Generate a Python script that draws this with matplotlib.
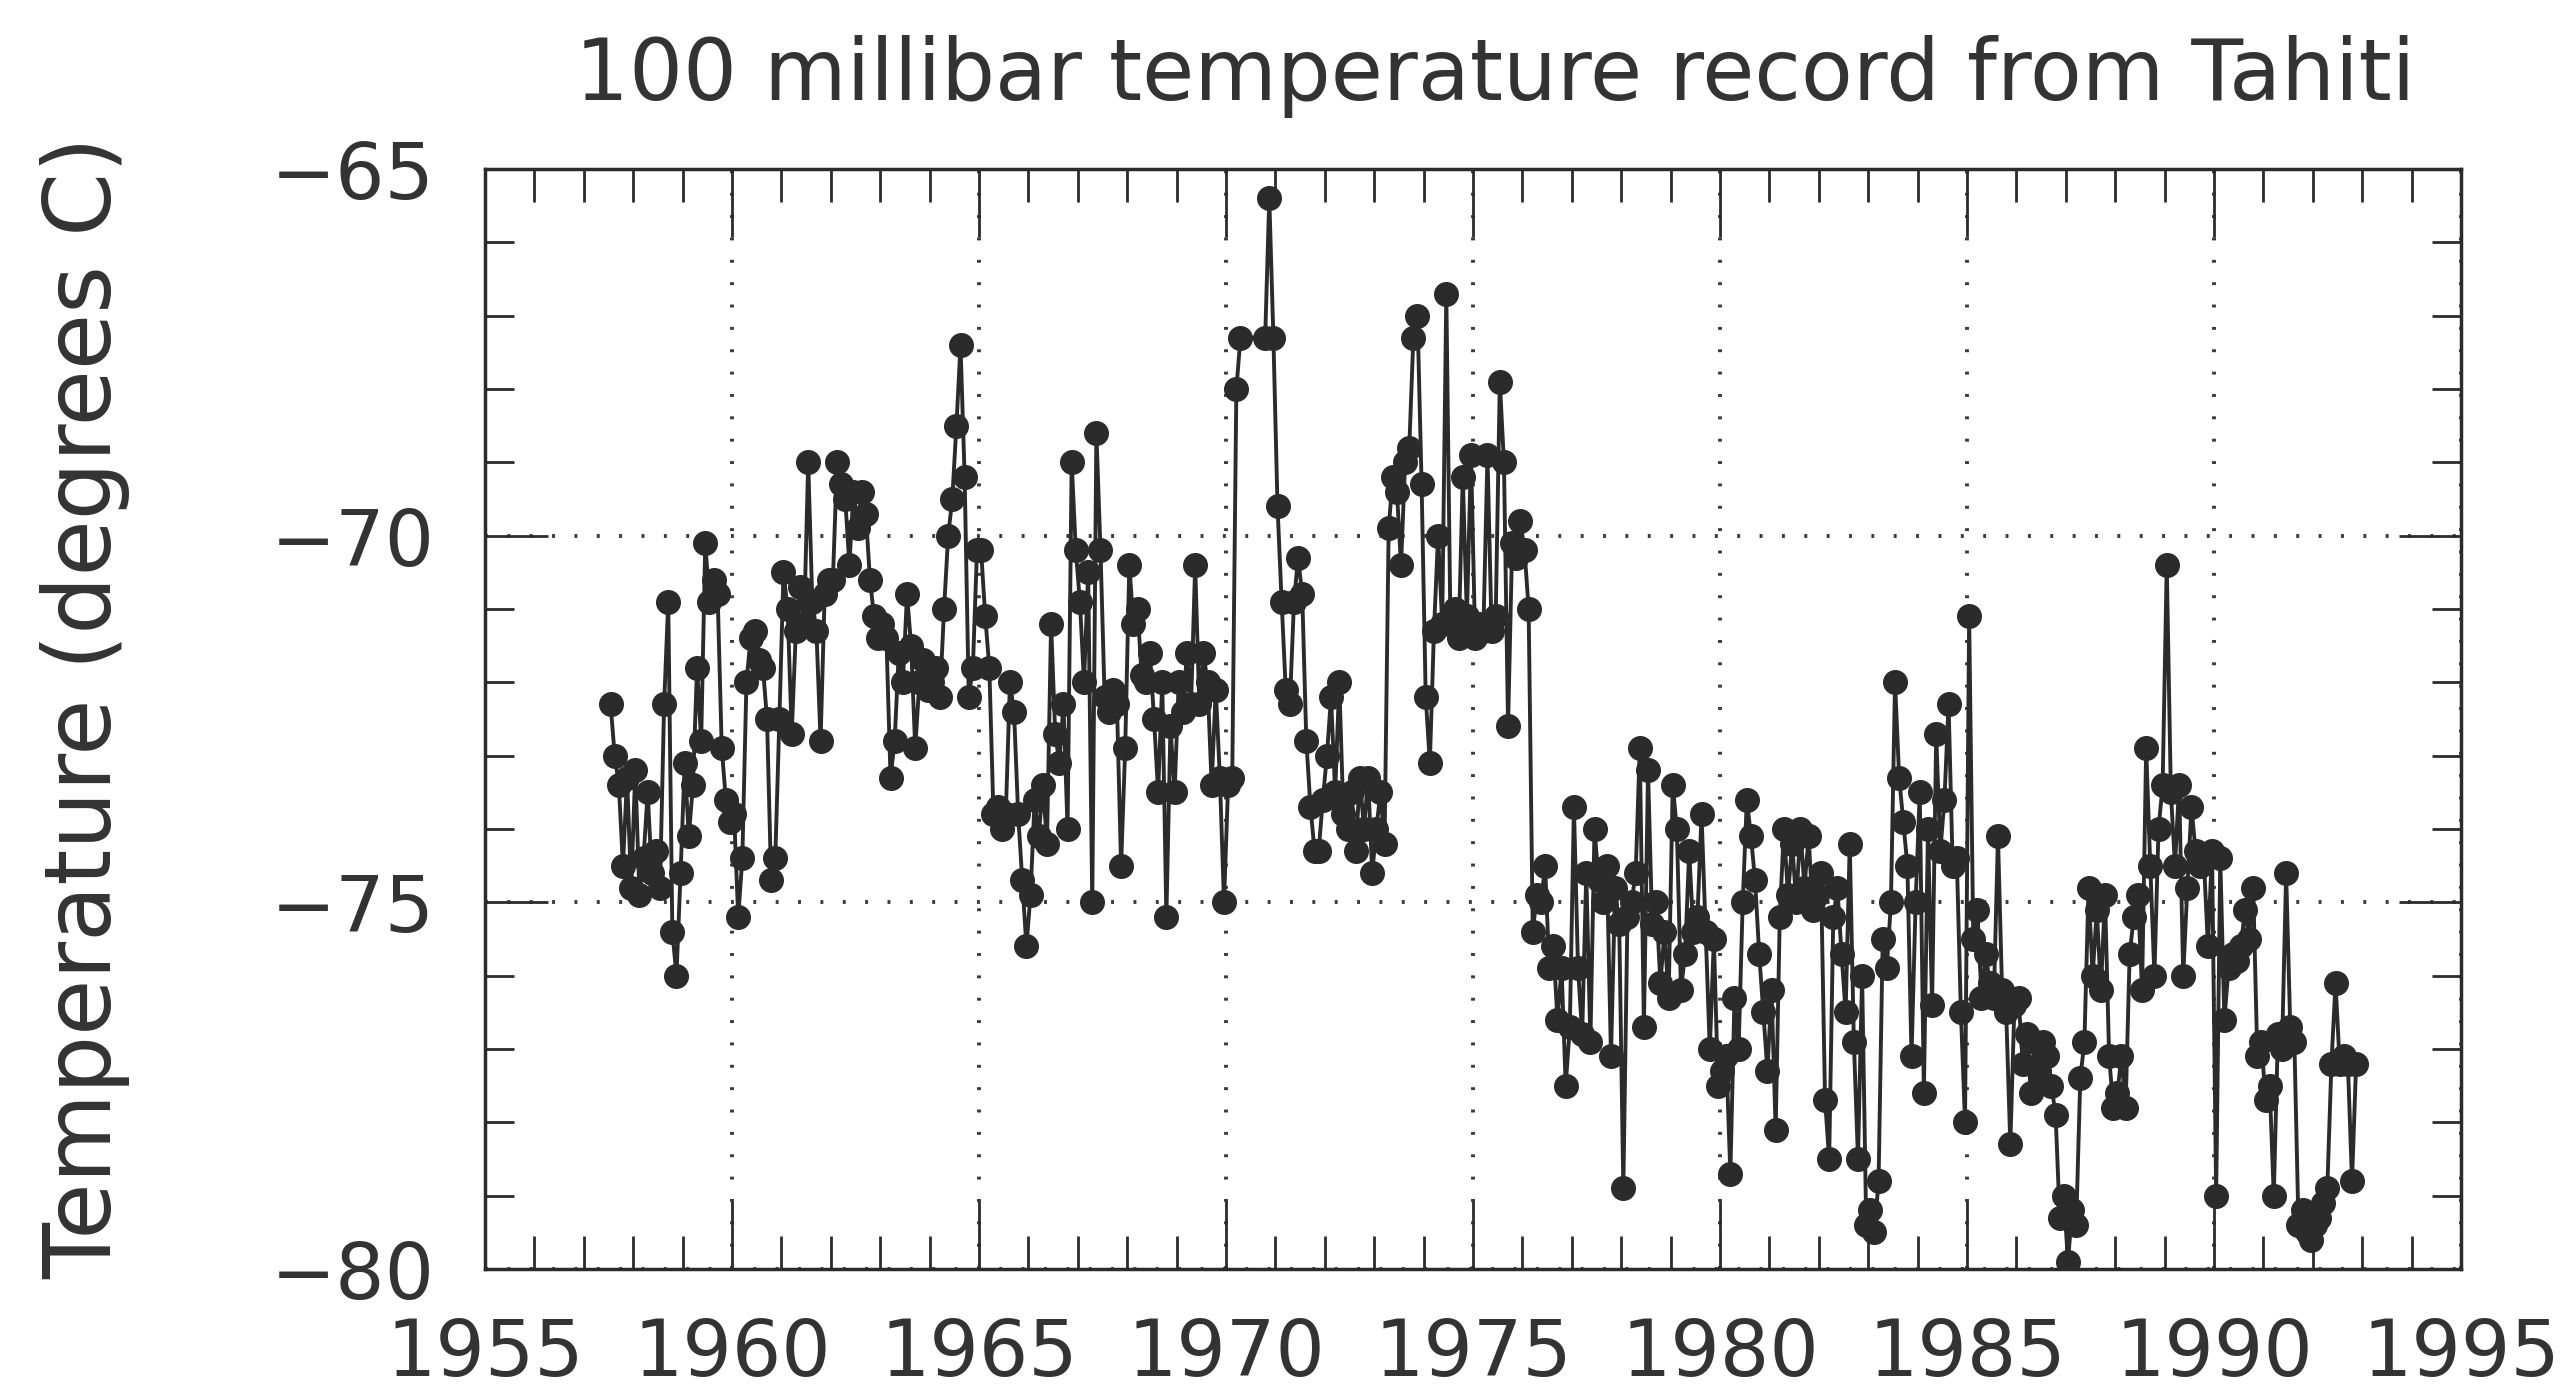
import numpy as np
import matplotlib.pyplot as plt

title = "100 millibar temperature record from Tahiti"
ylabel = "Temperature (degrees C)"

# monthly 100 mb temperatures (deg C), first value = July 1957, nan = no marker
start_year = 1957 + 6.5 / 12

temps_1950s = [
    -72.3, -73.0, -73.4, -74.5, -73.3, -74.8,
    -73.2, -74.9, -74.4, -73.5, -74.6, -74.3, -74.8, -72.3, -70.9, -75.4, -76.0, -74.6,
    -73.1, -74.1, -73.4, -71.8, -72.8, -70.1, -70.9, -70.6, -70.8, -72.9, -73.6, -73.9,
]
temps_1960s = [
    -73.8, -75.2, -74.4, -72.0, -71.4, -71.3, -71.7, -71.8, -72.5, -74.7, -74.4, -72.5,
    -70.5, -71.0, -72.7, -71.3, -70.7, -71.2, -69.0, -70.9, -71.3, -72.8, -70.8, -70.6,
    -70.6, -69.0, -69.3, -69.5, -70.4, -69.4, -69.9, -69.4, -69.7, -70.6, -71.1, -71.4,
    -71.2, -71.4, -73.3, -72.8, -71.6, -72.0, -70.8, -71.5, -72.9, -72.0, -71.7, -72.1,
    -72.0, -71.8, -72.2, -71.0, -70.0, -69.5, -68.5, -67.4, -69.2, -72.2, -71.8, -70.2,
    -70.2, -71.1, -71.8, -73.8, -73.7, -74.0, -73.8, -72.0, -72.4, -73.8, -74.7, -75.6,
    -74.9, -73.6, -74.1, -73.4, -74.2, -71.2, -72.7, -73.1, -72.3, -74.0, -69.0, -70.2,
    -70.9, -72.0, -70.5, -75.0, -68.6, -70.2, -72.2, -72.4, -72.1, -72.3, -74.5, -72.9,
    -70.4, -71.2, -71.0, -71.9, -72.0, -71.6, -72.5, -73.5, -72.0, -75.2, -72.6, -73.5,
    -72.0, -72.4, -71.6, -72.3, -70.4, -72.3, -71.6, -72.0, -73.4, -72.1, -73.3, -75.0,
]
temps_1970s = [
    -73.4, -73.3, -68.0, -67.3, np.nan, np.nan, np.nan, np.nan, np.nan, -67.3, -65.4, -67.3,
    -69.6, -70.9, -72.1, -72.3, -70.9, -70.3, -70.8, -72.8, -73.7, -74.3, -74.3, -73.6,
    -73.0, -72.2, -73.5, -72.0, -73.8, -74.0, -73.5, -74.3, -73.3, -74.0, -73.3, -74.6,
    -74.0, -73.5, -74.2, -69.9, -69.2, -69.4, -70.4, -69.0, -68.8, -67.3, -67.0, -69.3,
    -72.2, -73.1, -71.3, -70.0, -71.2, -66.7, -71.2, -71.0, -71.4, -69.2, -71.1, -68.9,
    -71.4, -71.2, -71.3, -68.9, -71.3, -71.1, -67.9, -69.0, -72.6, -70.1, -70.3, -69.8,
    -70.2, -71.0, -75.4, -74.9, -75.0, -74.5, -75.9, -75.6, -76.6, -75.9, -77.5, -76.7,
    -73.7, -75.9, -76.8, -74.6, -76.9, -74.0, -74.7, -75.0, -74.5, -77.1, -74.8, -75.3,
    -78.9, -75.2, -75.0, -74.6, -72.9, -76.7, -73.2, -75.3, -75.0, -76.1, -75.4, -76.3,
    -73.4, -74.0, -76.2, -75.7, -74.3, -75.4, -75.2, -73.8, -75.4, -77.0, -75.5, -77.5,
]
temps_1980s = [
    -77.3, -77.1, -78.7, -76.3, -77.0, -75.0, -73.6, -74.1, -74.7, -75.7, -76.5, -77.3,
    -76.2, -78.1, -75.2, -74.0, -74.9, -74.2, -75.0, -74.0, -74.8, -74.1, -75.1, -74.9,
    -74.6, -77.7, -78.5, -75.2, -74.8, -75.7, -76.5, -74.2, -76.9, -78.5, -76.0, -79.4,
    -79.2, -79.5, -78.8, -75.5, -75.9, -75.0, -72.0, -73.3, -73.9, -74.5, -77.1, -75.0,
    -73.5, -77.6, -74.0, -76.4, -72.7, -74.3, -73.6, -72.3, -74.5, -74.4, -76.5, -78.0,
    -71.1, -75.5, -75.1, -76.3, -75.7, -76.1, -76.3, -74.1, -76.2, -76.5, -78.3, -76.4,
    -76.3, -77.2, -76.8, -77.6, -76.9, -77.3, -76.9, -77.1, -77.5, -77.9, -79.3, -79.0,
    -79.9, -79.2, -79.4, -77.4, -76.9, -74.8, -76.0, -75.1, -76.2, -74.9, -77.1, -77.8,
    -77.6, -77.1, -77.8, -75.7, -75.2, -74.9, -76.2, -72.9, -74.5, -76.0, -74.0, -73.4,
    -70.4, -73.5, -74.5, -73.4, -76.0, -74.8, -73.7, -74.3, -74.5, -74.4, -75.6, -74.3,
]
temps_1990s = [
    -79.0, -74.4, -76.6, -75.9, -75.7, -75.8, -75.6, -75.1, -75.5, -74.8, -77.1, -76.9,
    -77.7, -77.5, -79.0, -76.8, -77.0, -74.6, -76.7, -76.9, -79.4, -79.2, -79.5, -79.6,
    -79.4, -79.3, -79.1, -78.9, -77.2, -76.1, -77.2, -77.1, -77.2, -78.8, -77.2,
]

xticks = [1955, 1960, 1965, 1970, 1975, 1980, 1985, 1990, 1995]
yticks = [-80, -75, -70, -65]
ytick_labels = ["\u221280", "\u221275", "\u221270", "\u221265"]

temps = np.array(temps_1950s + temps_1960s + temps_1970s + temps_1980s + temps_1990s)
years = start_year + np.arange(len(temps)) / 12.0
ok = ~np.isnan(temps)

plt.rcParams['font.family'] = ['DejaVu Sans']
ink = '#2b2b2b'
txt = '#333333'

fig = plt.figure(figsize=(25.69, 13.99), dpi=100)
ax = fig.add_axes([0.1888, 0.0929, 0.7692, 0.7863])

ax.plot(years[ok], temps[ok], '-o', color=ink, lw=2.8, ms=17,
        markerfacecolor=ink, markeredgecolor=ink)

ax.set_xlim(1955, 1995)
ax.set_ylim(-80, -65)
ax.set_xticks(xticks)
ax.set_xticks(np.arange(1955, 1996), minor=True)
ax.set_yticks(yticks)
ax.set_yticklabels(ytick_labels)
ax.set_yticks(np.arange(-80, -64), minor=True)

ax.grid(which='major', color='#3a3a3a', lw=2.8, linestyle=(0, (0.75, 5.0)))

ax.tick_params(axis='x', which='major', direction='in', length=49, width=2,
               top=True, bottom=True, labelsize=56, pad=34, colors=ink,
               labelcolor=txt)
ax.tick_params(axis='x', which='minor', direction='in', length=24, width=2,
               top=True, bottom=True, colors=ink)
ax.tick_params(axis='y', which='major', direction='in', length=45, width=2,
               left=True, right=True, labelsize=56, pad=36, colors=ink,
               labelcolor=txt)
ax.tick_params(axis='y', which='minor', direction='in', length=21, width=2,
               left=True, right=True, colors=ink)

for sp in ax.spines.values():
    sp.set_linewidth(2.5)
    sp.set_color(ink)

fig.text(0.582, 0.945, title, ha='center', va='center', fontsize=61, color=txt)
fig.text(0.033, 0.494, ylabel, ha='center', va='center', rotation=90,
         fontsize=66, color=txt)

fig.savefig('out.png', dpi=100)
